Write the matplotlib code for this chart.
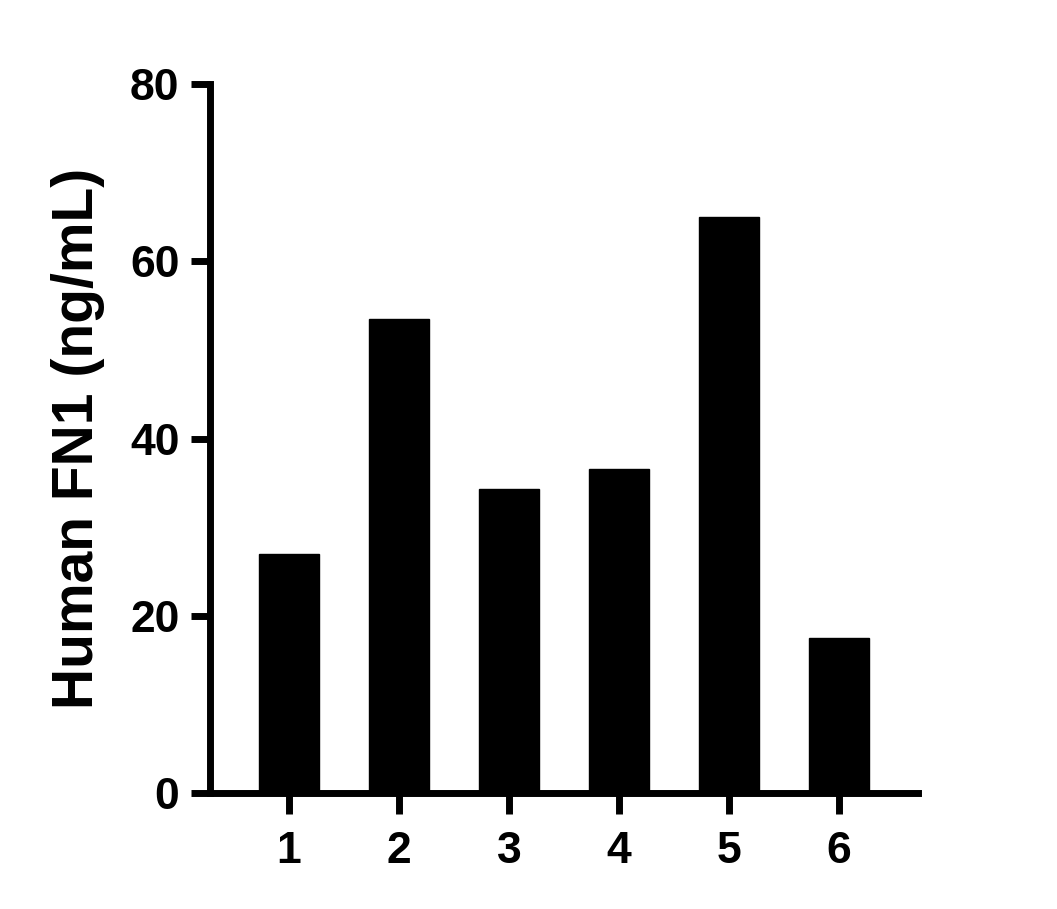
import numpy as np
import matplotlib
matplotlib.use("Agg")
import matplotlib.pyplot as plt

# values
samples = ["1", "2", "3", "4", "5", "6"]
fn1_ng_ml = [27.0, 53.5, 34.3, 36.6, 65.0, 17.5]
y_ticks = [0, 20, 40, 60, 80]

plt.rcParams["font.family"] = ["Liberation Sans", "DejaVu Sans"]
plt.rcParams["font.weight"] = "bold"

fig = plt.figure(figsize=(10.57, 9.09), dpi=100)
ax = fig.add_axes([0.1987, 0.1276, 0.6698, 0.78])

x = np.arange(1, len(samples) + 1)
ax.bar(x, fn1_ng_ml, width=0.545, color="black", edgecolor="black")

ax.set_xlim(0.282, 6.718)
ax.set_ylim(0, 80)
ax.set_yticks(y_ticks)
ax.set_xticks(x)
ax.set_xticklabels(samples)

for side in ["top", "right"]:
    ax.spines[side].set_visible(False)
for side in ["left", "bottom"]:
    ax.spines[side].set_linewidth(5)
    ax.spines[side].set_capstyle("projecting")

ax.tick_params(axis="y", width=5, length=14, labelsize=32, pad=8)
ax.tick_params(axis="x", width=5, length=15, labelsize=32, pad=12)
for lbl in ax.get_xticklabels() + ax.get_yticklabels():
    lbl.set_fontweight("bold")

ax.set_ylabel("Human FN1 (ng/mL)", fontsize=41, fontweight="bold", labelpad=18)

fig.savefig("out.png", dpi=100)
